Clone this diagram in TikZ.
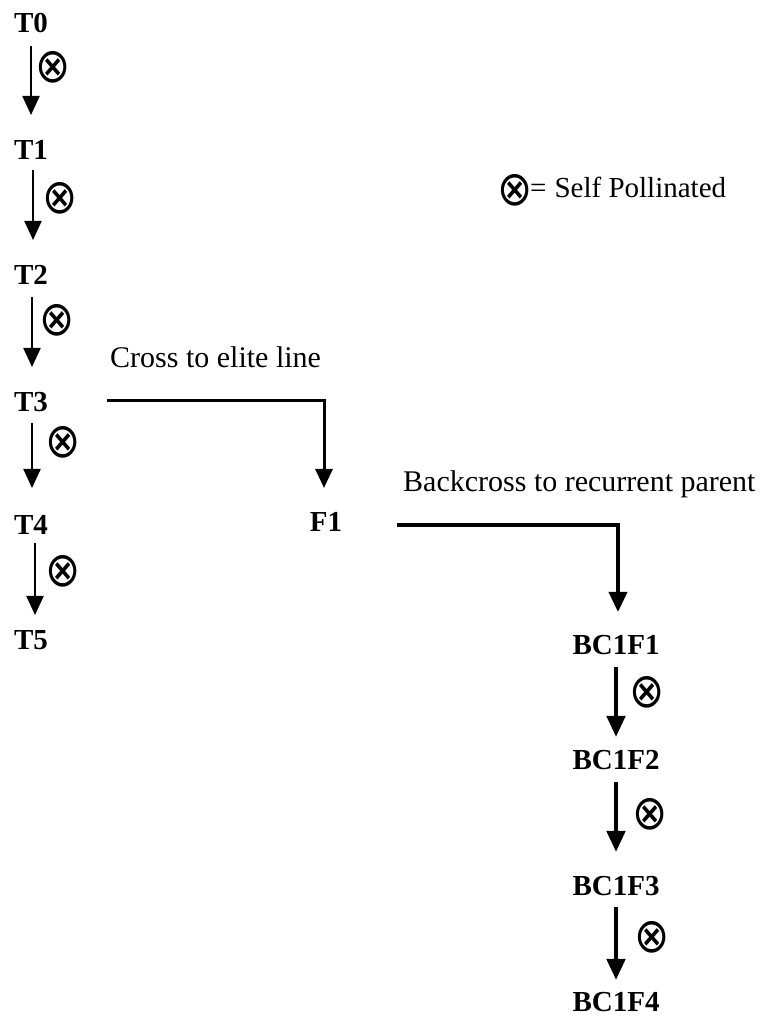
\documentclass[tikz,border=0pt]{standalone}
\usepackage{fontspec}
\usepackage{graphicx}
\setmainfont{Liberation Serif}
\newfontfamily\symfont{DejaVu Sans}
\usetikzlibrary{arrows.meta}
\newcommand{\osym}{\scalebox{1}[1.15]{\symfont ⊗}}
\tikzset{
  lab/.style={font=\fontsize{29}{34}\selectfont\bfseries, inner sep=0pt, anchor=base},
  txt/.style={font=\fontsize{30}{36}\selectfont, inner sep=0pt, anchor=base west},
  sym/.style={font=\fontsize{42}{48}\selectfont, inner sep=0pt},
  tarr/.style={-{Triangle[width=17pt,length=19pt]}, line width=2.2pt},
  barr/.style={-{Triangle[width=18pt,length=21pt]}, line width=4.5pt},
}
\begin{document}
\begin{tikzpicture}[x=1pt,y=1pt]
\useasboundingbox (0,0) rectangle (764,1019);
% generation labels
\node[lab] (T0) at (31,986) {T0};
\node[lab] (T1) at (31,859) {T1};
\node[lab] (T2) at (31,734) {T2};
\node[lab] (T3) at (31,607) {T3};
\node[lab] (T4) at (31,484) {T4};
\node[lab] (T5) at (31,369) {T5};
\node[lab] (F1) at (326,487) {F1};
\node[lab] (BC1F1) at (616,364) {BC1F1};
\node[lab] (BC1F2) at (616,249) {BC1F2};
\node[lab] (BC1F3) at (616,123) {BC1F3};
\node[lab] (BC1F4) at (616,7) {BC1F4};
% selfing arrows
\draw[tarr] ([yshift=-13pt]T0.base) -- ([yshift=45pt]T1.base);
\draw[tarr] ([xshift=2pt,yshift=-10pt]T1.base) -- ([xshift=2pt,yshift=45pt]T2.base);
\draw[tarr] ([xshift=1pt,yshift=-12pt]T2.base) -- ([xshift=1pt,yshift=45pt]T3.base);
\draw[tarr] ([xshift=1pt,yshift=-11pt]T3.base) -- ([xshift=1pt,yshift=47pt]T4.base);
\draw[tarr] ([xshift=4pt,yshift=-8pt]T4.base) -- ([xshift=4pt,yshift=35pt]T5.base);
\draw[barr] ([yshift=-12pt]BC1F1.base) -- ([yshift=33pt]BC1F2.base);
\draw[barr] ([yshift=-12pt]BC1F2.base) -- ([yshift=44pt]BC1F3.base);
\draw[barr] ([yshift=-11pt]BC1F3.base) -- ([yshift=32pt]BC1F4.base);
% crosses
\draw[line width=3pt, -{Triangle[width=17pt,length=19pt]}]
  ([xshift=76pt,yshift=11pt]T3.base) -| ([xshift=-2pt,yshift=44pt]F1.base);
\draw[line width=3.8pt, -{Triangle[width=18pt,length=20pt]}]
  ([xshift=71pt,yshift=7pt]F1.base) -| ([xshift=2pt,yshift=43pt]BC1F1.base);
\node[txt] (cross) at (110,651) {Cross to elite line};
\node[txt] (back) at (403,527) {Backcross to recurrent parent};
% self symbols
\node[sym] (s0) at (53,952) {\osym};
\node[sym] (s1) at (60,821) {\osym};
\node[sym] (s2) at (57,699) {\osym};
\node[sym] (s3) at (63,577) {\osym};
\node[sym] (s4) at (63,448) {\osym};
\node[sym] (sb1) at (647,327) {\osym};
\node[sym] (sb2) at (650,205) {\osym};
\node[sym] (sb3) at (652,82) {\osym};
% legend
\node[sym] (ls) at (515,829) {\osym};
\node[font=\fontsize{29}{34}\selectfont, inner sep=0pt, anchor=base west] (lt) at (530,821) {=\hspace{8pt}Self Pollinated};
\end{tikzpicture}
\end{document}
